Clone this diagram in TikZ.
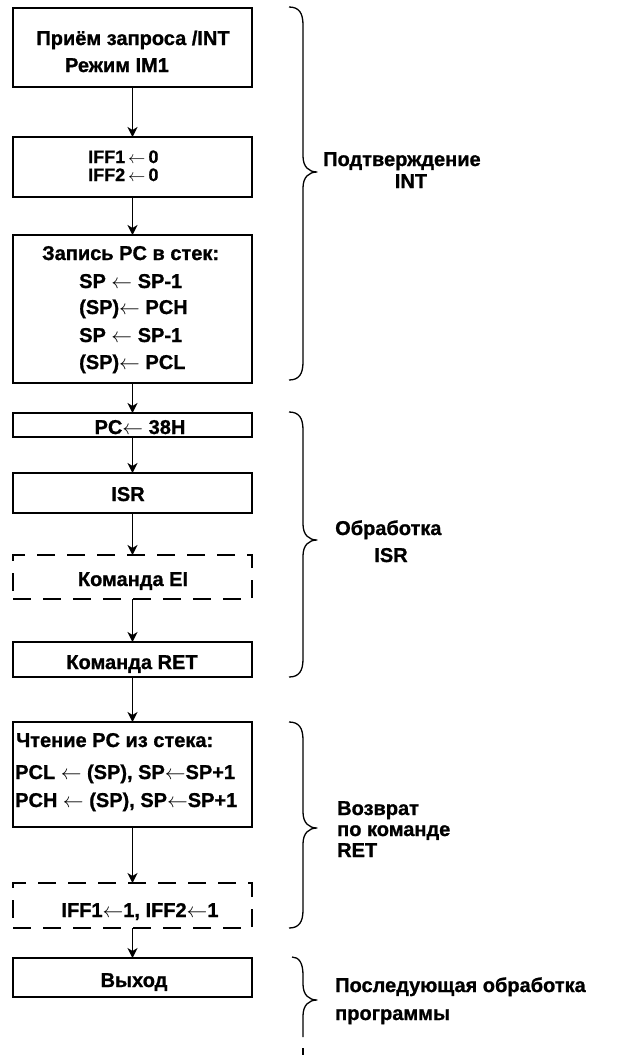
\documentclass[tikz,border=0pt]{standalone}
\usepackage{fontspec}
\setmainfont{Liberation Sans}[BoldFeatures={FakeBold=1}]
\usetikzlibrary{arrows.meta}
% thin assignment arrow used inside the box texts
\newcommand\asg{$\leftarrow$}
% curly brace: top y, tip y, bottom y
\newcommand\drawbrace[3]{%
  \draw[brace] (289,#1) .. controls (299,#1) and (303,#1+6) .. (303,#1+18)
    -- (303,#2-16) .. controls (303,#2-5) and (309,#2) .. (317,#2)
    .. controls (309,#2) and (303,#2+5) .. (303,#2+16)
    -- (303,#3-18) .. controls (303,#3-6) and (299,#3) .. (289,#3);}
\begin{document}
\begin{tikzpicture}[x=1pt,y=-1pt,
  box/.style={draw, line width=1.8pt, minimum width=239pt, inner sep=0pt, outer sep=0pt},
  dbox/.style={box, dash pattern=on 18pt off 12pt},
  flow/.style={line width=1.6pt, -{Stealth[length=10pt,width=10pt,inset=3pt]}},
  txt/.style={inner sep=0pt, font=\bfseries\fontsize{20}{24}\selectfont},
  small/.style={font=\bfseries\fontsize{18}{20}\selectfont},
  lt/.style={txt, anchor=base west},
  ct/.style={txt, anchor=base},
  brace/.style={line width=1.3pt, line join=round}]
\useasboundingbox[fill=white] (0,0) rectangle (620,1055);

% flowchart boxes
\node[box, minimum height=79pt]  (b1)  at (132.5,47.5) {};
\node[box, minimum height=60pt]  (b2)  at (132.5,167) {};
\node[box, minimum height=148pt] (b3)  at (132.5,309) {};
\node[box, minimum height=24pt]  (b4)  at (132.5,425) {};
\node[box, minimum height=40pt]  (b5)  at (132.5,493) {};
\node[dbox, minimum height=44pt] (b6)  at (132.5,577) {};
\node[box, minimum height=35pt]  (b7)  at (132.5,659.5) {};
\node[box, minimum height=105pt] (b8)  at (132.5,774.5) {};
\node[dbox, minimum height=45pt] (b9)  at (132.5,905.5) {};
\node[box, minimum height=39pt]  (b10) at (132.5,977.5) {};

% box texts
\node[ct] (t1a) at (133,45) {Приём запроса /INT};
\node[ct] (t1b) at (117,72) {Режим IM1};
\node[lt, small] (t2a) at (88,163) {IFF1\,\asg\,0};
\node[lt, small] (t2b) at (88,181) {IFF2\,\asg\,0};
\node[lt] (t3a) at (42,260) {Запись PC в стек:};
\node[lt] (t3b) at (79,288) {SP \asg\ SP-1};
\node[lt] (t3c) at (79,314) {(SP)\asg\ PCH};
\node[lt] (t3d) at (79,342) {SP \asg\ SP-1};
\node[lt] (t3e) at (79,369) {(SP)\asg\ PCL};
\node[ct] (t4)  at (140,434) {PC\asg\ 38H};
\node[ct] (t5)  at (128,501) {ISR};
\node[ct] (t6)  at (133,586) {Команда EI};
\node[ct] (t7)  at (132,669) {Команда RET};
\node[lt] (t8a) at (16,747) {Чтение PC из стека:};
\node[lt] (t8b) at (15,779) {PCL \asg\ (SP), SP\asg SP+1};
\node[lt] (t8c) at (15,807) {PCH \asg\ (SP), SP\asg SP+1};
\node[ct] (t9)  at (140,917) {IFF1\asg 1, IFF2\asg 1};
\node[ct] (t10) at (134,987) {Выход};

% connectors
\draw[flow] (b1.south) -- (b2.north);
\draw[flow] (b2.south) -- (b3.north);
\draw[flow] (b3.south) -- (b4.north);
\draw[flow] (b4.south) -- (b5.north);
\draw[flow] (b5.south) -- (b6.north);
\draw[flow] (b6.south) -- (b7.north);
\draw[flow] (b7.south) -- (b8.north);
\draw[flow] (b8.south) -- (b9.north);
\draw[flow] (b9.south) -- (b10.north);

% phase braces
\drawbrace{7}{172}{380}
\drawbrace{412}{540}{677}
\drawbrace{722}{828}{928}
\draw[brace] (292,957) .. controls (299,957) and (303,963) .. (303,975)
  -- (303,984) .. controls (303,995) and (309,1000) .. (317,1000)
  .. controls (309,1000) and (303,1005) .. (303,1016) -- (303,1037);
\draw[brace] (303,1048) -- (303,1056);

% phase labels
\node[lt] (p1a) at (323,166) {Подтверждение};
\node[ct] (p1b) at (411,188) {INT};
\node[lt] (p2a) at (335,535) {Обработка};
\node[ct] (p2b) at (391,562) {ISR};
\node[lt] (p3a) at (337,815) {Возврат};
\node[lt] (p3b) at (337,836) {по команде};
\node[lt] (p3c) at (337,857) {RET};
\node[lt] (p4a) at (335,992) {Последующая обработка};
\node[lt] (p4b) at (335,1020) {программы};
\end{tikzpicture}
\end{document}
